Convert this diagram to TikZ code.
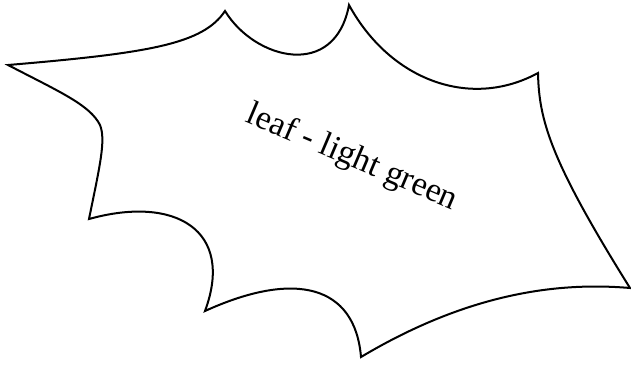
\documentclass[tikz,border=0pt]{standalone}
\usepackage{fontspec}
\setmainfont{Liberation Serif}
\tikzset{leafshape/.style={draw=black, line width=2pt, line join=miter, fill=white},
  leaflabel/.style={font=\fontsize{34}{39}\selectfont, rotate=-23, inner sep=0pt}}
\begin{document}
\begin{tikzpicture}[x=1pt,y=-1pt]
\useasboundingbox (0,0) rectangle (631,365);
\draw[leafshape] (8,65) .. controls (150,53) and (203,44) .. (225,11)
  .. controls (255,60) and (335,80) .. (349,5)
  .. controls (390,80) and (470,110) .. (538,73)
  .. controls (539,120) and (550,160) .. (630,288)
  .. controls (560,282) and (470,292) .. (361,357)
  .. controls (355,285) and (295,270) .. (205,311)
  .. controls (235,230) and (175,195) .. (89,219)
  .. controls (100,165) and (106,140) .. (100,125)
  .. controls (90,105) and (60,92) .. cycle;
\node[leaflabel] (lbl) at (352,158) {leaf - light green};
\end{tikzpicture}
\end{document}
